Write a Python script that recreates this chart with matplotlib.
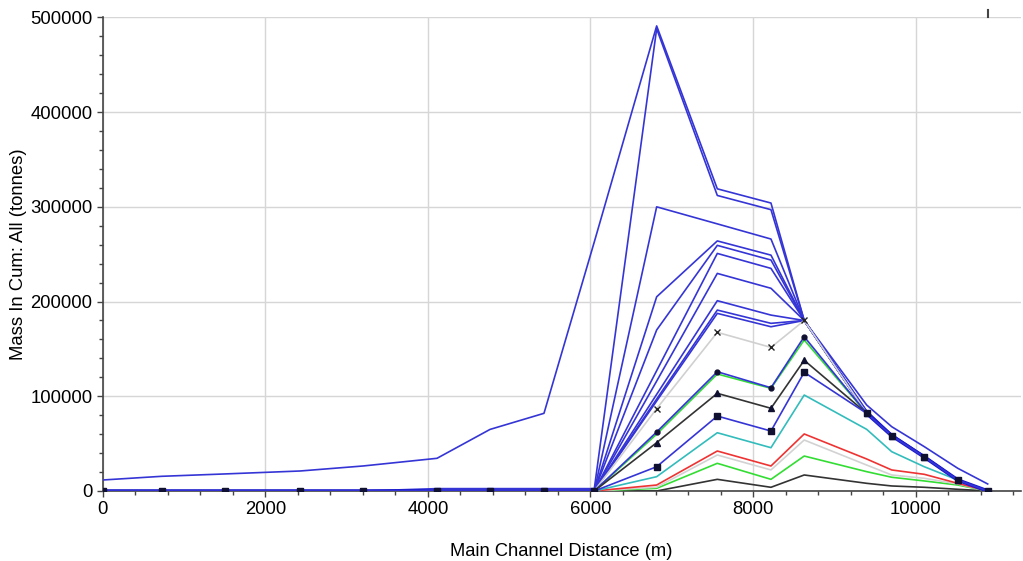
import matplotlib.pyplot as plt
from matplotlib.ticker import MultipleLocator

plt.rcParams["font.family"] = ["Liberation Sans", "DejaVu Sans"]

# river stations (m)
stations = [0, 726, 1504, 2427, 3202, 4112, 4764, 5428, 6047,
            6814, 7560, 8220, 8629, 9397, 9705, 10106, 10517, 10886]

# blue profiles (no markers)
prof_a = [11600, 15500, 18000, 21100, 26400, 34500, 65000, 82000, 263000,
          491000, 319000, 304000, 180000, 90800, 67900, 46800, 24000, 7400]
prof_b = [0, 0, 0, 0, 0, 2500, 2500, 2500, 2500,
          488000, 312000, 297000, 180000, 84500, 59500, 36800, 11800, 0]
prof_c = [0, 0, 0, 0, 0, 0, 0, 0, 0,
          300000, 282000, 266000, 180000, 84000, 59000, 36500, 11700, 0]
prof_d = [0, 0, 0, 0, 0, 0, 0, 0, 0,
          205000, 264000, 249000, 180000, 83500, 58800, 36300, 11700, 0]
prof_e = [0, 0, 0, 0, 0, 0, 0, 0, 0,
          170000, 259300, 243800, 180000, 83000, 58600, 36100, 11600, 0]
prof_f = [0, 0, 0, 0, 0, 0, 0, 0, 0,
          127000, 250800, 235000, 180000, 82500, 58500, 36000, 11600, 0]
prof_g = [0, 0, 0, 0, 0, 0, 0, 0, 0,
          116000, 229700, 214000, 180000, 82200, 58400, 35900, 11600, 0]
prof_h = [0, 0, 0, 0, 0, 0, 0, 0, 0,
          102000, 200900, 185700, 180000, 82000, 58400, 35900, 11600, 0]
prof_i = [0, 0, 0, 0, 0, 0, 0, 0, 0,
          97000, 191000, 177000, 180000, 82000, 58400, 35900, 11600, 0]
prof_j = [0, 0, 0, 0, 0, 0, 0, 0, 0,
          95000, 187500, 173400, 180000, 82000, 58400, 35900, 11600, 0]

# marked / coloured profiles
prof_x = [0, 0, 0, 0, 0, 0, 0, 0, 0,
          86900, 167500, 151600, 180000, 82000, 58400, 35900, 11600, 0]
prof_dot = [0, 0, 0, 0, 0, 0, 0, 0, 0,
            62300, 125900, 109000, 162900, 82000, 58400, 35900, 11600, 0]
prof_green1 = [0, 0, 0, 0, 0, 0, 0, 0, 0,
               60000, 123500, 108400, 159400, 82000, 58400, 35900, 11600, 0]
prof_tri = [0, 0, 0, 0, 0, 0, 0, 0, 0,
            51000, 103100, 87300, 138000, 82000, 58400, 35900, 11600, 0]
prof_sq = [0, 0, 0, 0, 0, 0, 0, 0, 0,
           25600, 79100, 63300, 125300, 82000, 58400, 35900, 11600, 0]
prof_cyan = [0, 0, 0, 0, 0, 0, 0, 0, 0,
             15100, 61500, 45700, 101300, 65100, 41500, 25600, 11600, 0]
prof_red = [0, 0, 0, 0, 0, 0, 0, 0, 0,
            6300, 42200, 26400, 60200, 33800, 22200, 17600, 8100, 0]
prof_lgray = [0, 0, 0, 0, 0, 0, 0, 0, 0,
              4000, 38000, 22200, 53800, 27400, 16900, 13400, 7400, 0]
prof_green2 = [0, 0, 0, 0, 0, 0, 0, 0, 0,
               2800, 29200, 12300, 36900, 20400, 14500, 10600, 6300, 0]
prof_black = [0, 0, 0, 0, 0, 0, 0, 0, 0,
              0, 12300, 3900, 16900, 8100, 5300, 3900, 1800, 0]

BLUE = "#3535d6"
MK = "#101030"

fig, ax = plt.subplots(figsize=(10.23, 5.61), dpi=100)
fig.subplots_adjust(left=0.1004, right=0.9976, bottom=0.1248, top=0.969)

for p in [prof_a, prof_b, prof_c, prof_d, prof_e, prof_f, prof_g,
          prof_h, prof_i, prof_j]:
    ax.plot(stations, p, color=BLUE, lw=1.2, zorder=3)

ax.plot(stations, prof_black, color="#333333", lw=1.2, zorder=3)
ax.plot(stations, prof_green2, color="#33dd33", lw=1.2, zorder=3)
ax.plot(stations, prof_lgray, color="#d2d2d2", lw=1.2, zorder=3)
ax.plot(stations, prof_red, color="#ee3333", lw=1.2, zorder=3)
ax.plot(stations, prof_cyan, color="#33bcbc", lw=1.2, zorder=3)
ax.plot(stations, prof_x, color="#d0d0d0", lw=1.2, marker="x", ms=4,
        mec="#222222", mew=1, zorder=3)
ax.plot(stations, prof_green1, color="#33dd33", lw=1.2, zorder=3)
ax.plot(stations, prof_dot, color=BLUE, lw=1.2, marker="o", ms=3.5,
        mfc=MK, mec=MK, zorder=4)
ax.plot(stations, prof_tri, color="#333333", lw=1.2, marker="^", ms=4,
        mfc=MK, mec=MK, zorder=4)

# where many profiles coincide the bundle reads as one thick line
ax.plot(stations[:9], prof_sq[:9], color="#1a1acc", lw=2.6, zorder=5)
ax.plot(stations[13:], prof_sq[13:], color="#1a1acc", lw=2.6, zorder=5)
ax.plot(stations, prof_sq, color=BLUE, lw=1.2, marker="s", ms=5,
        mfc=MK, mec=MK, zorder=5)

# small mark on the top edge at the last station
ax.plot([stations[-1], stations[-1]], [1.0, 1.015], color="#444444", lw=1.5,
        transform=ax.get_xaxis_transform(), clip_on=False)

ax.set_xlim(0, 11290)
ax.set_ylim(0, 500000)
ax.xaxis.set_major_locator(MultipleLocator(2000))
ax.xaxis.set_minor_locator(MultipleLocator(400))
ax.yaxis.set_major_locator(MultipleLocator(100000))
ax.yaxis.set_minor_locator(MultipleLocator(20000))
ax.grid(True, which="major", color="#d6d6d6", lw=1, zorder=0)
ax.set_axisbelow(True)

for s in ["top", "right"]:
    ax.spines[s].set_visible(False)
for s in ["left", "bottom"]:
    ax.spines[s].set_color("#444444")
    ax.spines[s].set_linewidth(1.2)

ax.tick_params(which="major", length=4.5, width=1, color="#444444",
               labelsize=13.3, pad=3)
ax.tick_params(which="minor", length=3, width=1, color="#444444")

ax.set_xlabel("Main Channel Distance (m)", fontsize=13.2, labelpad=18)
ax.set_ylabel("Mass In Cum: All (tonnes)", fontsize=13.3, labelpad=2)

fig.savefig("out.png", dpi=100, facecolor="white")
